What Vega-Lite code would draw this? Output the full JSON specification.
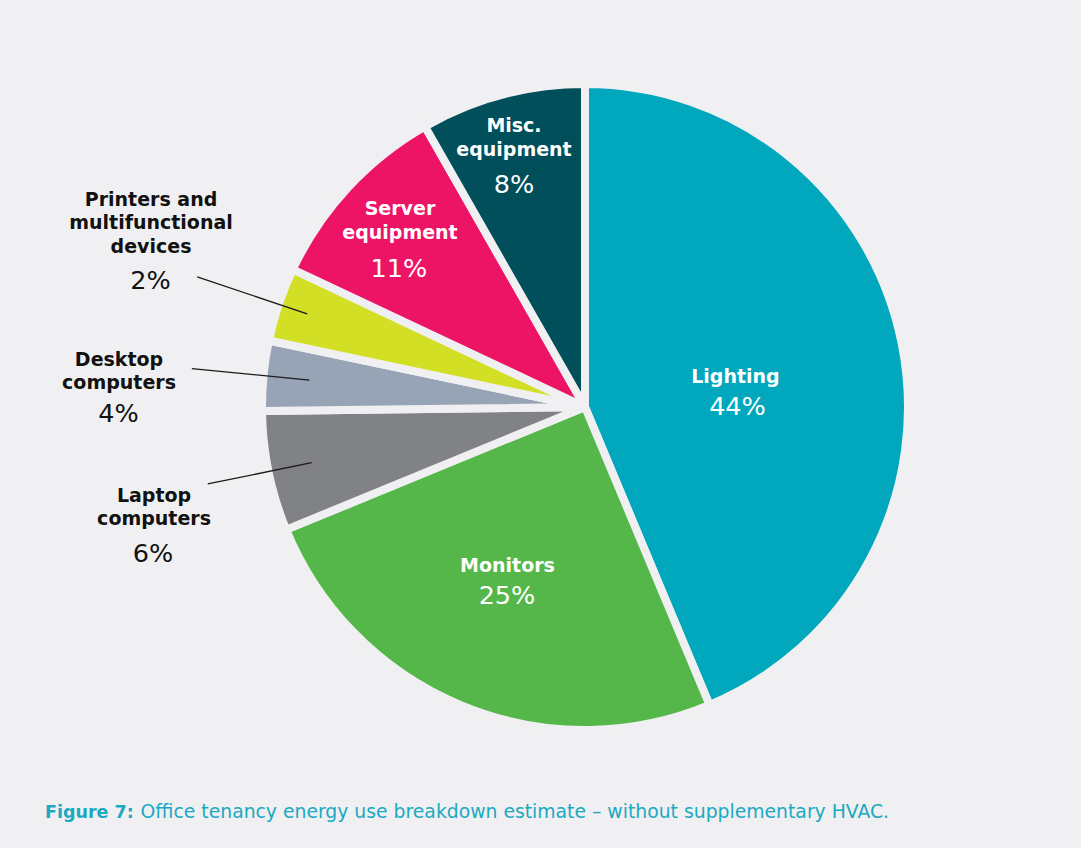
{
  "$schema": "https://vega.github.io/schema/vega-lite/v6.json",
  "width": 646,
  "height": 646,
  "autosize": {"type": "none"},
  "padding": {"left": 262, "top": 84, "right": 173, "bottom": 118},
  "background": "#f0f0f2",
  "config": {"view": {"stroke": null}},
  "title": {
    "text": "Figure 7:",
    "subtitle": "\u200b\u00a0\u00a0\u00a0\u00a0\u00a0\u00a0\u00a0\u00a0\u00a0\u00a0\u00a0\u00a0\u00a0\u00a0\u00a0\u00a0Office tenancy energy use breakdown estimate – without supplementary HVAC.",
    "orient": "bottom",
    "anchor": "start",
    "frame": "group",
    "dx": -217,
    "offset": -75,
    "font": "DejaVu Sans",
    "fontSize": 17.5,
    "fontWeight": "bold",
    "color": "#1ba9c2",
    "subtitleFont": "DejaVu Sans",
    "subtitleFontSize": 18.8,
    "subtitleFontWeight": "normal",
    "subtitleColor": "#1ba9c2",
    "subtitlePadding": -18
  },
  "data": {
    "values": [
      {"cat": "Lighting", "label": "Lighting", "pct": "44%", "value": 43.7, "ord": 1},
      {"cat": "Monitors", "label": "Monitors", "pct": "25%", "value": 25.1, "ord": 2},
      {"cat": "Laptop computers", "label": "Laptop\ncomputers", "pct": "6%", "value": 6.0, "ord": 3},
      {"cat": "Desktop computers", "label": "Desktop\ncomputers", "pct": "4%", "value": 3.5, "ord": 4},
      {"cat": "Printers and multifunctional devices", "label": "Printers and\nmultifunctional\ndevices", "pct": "2%", "value": 3.7, "ord": 5},
      {"cat": "Server equipment", "label": "Server\nequipment", "pct": "11%", "value": 9.75, "ord": 6},
      {"cat": "Misc. equipment", "label": "Misc.\nequipment", "pct": "8%", "value": 8.25, "ord": 7}
    ]
  },
  "encoding": {
    "theta": {"field": "value", "type": "quantitative", "stack": true},
    "order": {"field": "ord", "type": "quantitative"}
  },
  "layer": [
    {
      "mark": {"type": "arc", "outerRadius": 323, "stroke": "#f0f0f2", "strokeWidth": 8, "strokeJoin": "round"},
      "encoding": {
        "color": {
          "field": "cat", "type": "nominal", "legend": null,
          "scale": {
            "domain": ["Lighting", "Monitors", "Laptop computers", "Desktop computers", "Printers and multifunctional devices", "Server equipment", "Misc. equipment"],
            "range": ["#00a7bd", "#55b74a", "#818286", "#97a4b5", "#d2df25", "#ed1365", "#004f5b"]
          }
        }
      }
    },
    {
      "mark": {"type": "arc", "filled": false, "color": "#1a1a1a", "strokeWidth": 1.3, "padAngle": 3, "innerRadius": 293, "outerRadius": 409},
      "encoding": {"strokeOpacity": {"condition": {"test": "datum.ord === 5", "value": 1}, "value": 0}}
    },
    {
      "mark": {"type": "arc", "filled": false, "color": "#1a1a1a", "strokeWidth": 1.3, "padAngle": 3, "innerRadius": 277, "outerRadius": 395},
      "encoding": {"strokeOpacity": {"condition": {"test": "datum.ord === 4", "value": 1}, "value": 0}}
    },
    {
      "mark": {"type": "arc", "filled": false, "color": "#1a1a1a", "strokeWidth": 1.3, "padAngle": 3, "innerRadius": 279, "outerRadius": 385},
      "encoding": {"strokeOpacity": {"condition": {"test": "datum.ord === 3", "value": 1}, "value": 0}}
    },
    {
      "mark": {"type": "text", "radius": 150, "dx": 3.4, "dy": 5.5, "font": "DejaVu Sans", "fontSize": 19, "fontWeight": "bold", "color": "#ffffff", "align": "center", "baseline": "alphabetic", "lineBreak": "\n", "lineHeight": 24},
      "encoding": {"text": {"condition": {"test": "datum.ord === 1", "field": "label", "type": "nominal"}, "value": ""}}
    },
    {
      "mark": {"type": "text", "radius": 150, "dx": 5.4, "dy": 37.5, "font": "DejaVu Sans", "fontSize": 25.5, "fontWeight": "normal", "color": "#ffffff", "align": "center", "baseline": "alphabetic"},
      "encoding": {"text": {"condition": {"test": "datum.ord === 1", "field": "pct", "type": "nominal"}, "value": ""}}
    },
    {
      "mark": {"type": "text", "radius": 190, "dx": -4.8, "dy": -10.5, "font": "DejaVu Sans", "fontSize": 19, "fontWeight": "bold", "color": "#ffffff", "align": "center", "baseline": "alphabetic", "lineBreak": "\n", "lineHeight": 24},
      "encoding": {"text": {"condition": {"test": "datum.ord === 2", "field": "label", "type": "nominal"}, "value": ""}}
    },
    {
      "mark": {"type": "text", "radius": 190, "dx": -5.3, "dy": 21.5, "font": "DejaVu Sans", "fontSize": 25.5, "fontWeight": "normal", "color": "#ffffff", "align": "center", "baseline": "alphabetic"},
      "encoding": {"text": {"condition": {"test": "datum.ord === 2", "field": "pct", "type": "nominal"}, "value": ""}}
    },
    {
      "mark": {"type": "text", "radius": 430, "dx": -9.6, "dy": 9.1, "font": "DejaVu Sans", "fontSize": 19, "fontWeight": "bold", "color": "#111111", "align": "center", "baseline": "alphabetic", "lineBreak": "\n", "lineHeight": 23.5},
      "encoding": {"text": {"condition": {"test": "datum.ord === 3", "field": "label", "type": "nominal"}, "value": ""}}
    },
    {
      "mark": {"type": "text", "radius": 430, "dx": -10.6, "dy": 69.1, "font": "DejaVu Sans", "fontSize": 25.5, "fontWeight": "normal", "color": "#111111", "align": "center", "baseline": "alphabetic"},
      "encoding": {"text": {"condition": {"test": "datum.ord === 3", "field": "pct", "type": "nominal"}, "value": ""}}
    },
    {
      "mark": {"type": "text", "radius": 430, "dx": -38, "dy": 0.8, "font": "DejaVu Sans", "fontSize": 19, "fontWeight": "bold", "color": "#111111", "align": "center", "baseline": "alphabetic", "lineBreak": "\n", "lineHeight": 23.5},
      "encoding": {"text": {"condition": {"test": "datum.ord === 4", "field": "label", "type": "nominal"}, "value": ""}}
    },
    {
      "mark": {"type": "text", "radius": 430, "dx": -38.5, "dy": 56.8, "font": "DejaVu Sans", "fontSize": 25.5, "fontWeight": "normal", "color": "#111111", "align": "center", "baseline": "alphabetic"},
      "encoding": {"text": {"condition": {"test": "datum.ord === 4", "field": "pct", "type": "nominal"}, "value": ""}}
    },
    {
      "mark": {"type": "text", "radius": 430, "dx": -26.3, "dy": -64.3, "font": "DejaVu Sans", "fontSize": 19, "fontWeight": "bold", "color": "#111111", "align": "center", "baseline": "alphabetic", "lineBreak": "\n", "lineHeight": 23.5},
      "encoding": {"text": {"condition": {"test": "datum.ord === 5", "field": "label", "type": "nominal"}, "value": ""}}
    },
    {
      "mark": {"type": "text", "radius": 430, "dx": -26.8, "dy": 18.7, "font": "DejaVu Sans", "fontSize": 25.5, "fontWeight": "normal", "color": "#111111", "align": "center", "baseline": "alphabetic"},
      "encoding": {"text": {"condition": {"test": "datum.ord === 5", "field": "pct", "type": "nominal"}, "value": ""}}
    },
    {
      "mark": {"type": "text", "radius": 240, "dx": -8.8, "dy": -29.1, "font": "DejaVu Sans", "fontSize": 19, "fontWeight": "bold", "color": "#ffffff", "align": "center", "baseline": "alphabetic", "lineBreak": "\n", "lineHeight": 24},
      "encoding": {"text": {"condition": {"test": "datum.ord === 6", "field": "label", "type": "nominal"}, "value": ""}}
    },
    {
      "mark": {"type": "text", "radius": 240, "dx": -9.8, "dy": 32.9, "font": "DejaVu Sans", "fontSize": 25.5, "fontWeight": "normal", "color": "#ffffff", "align": "center", "baseline": "alphabetic"},
      "encoding": {"text": {"condition": {"test": "datum.ord === 6", "field": "pct", "type": "nominal"}, "value": ""}}
    },
    {
      "mark": {"type": "text", "radius": 240, "dx": -9.5, "dy": -43, "font": "DejaVu Sans", "fontSize": 19, "fontWeight": "bold", "color": "#ffffff", "align": "center", "baseline": "alphabetic", "lineBreak": "\n", "lineHeight": 24},
      "encoding": {"text": {"condition": {"test": "datum.ord === 7", "field": "label", "type": "nominal"}, "value": ""}}
    },
    {
      "mark": {"type": "text", "radius": 240, "dx": -9.5, "dy": 18, "font": "DejaVu Sans", "fontSize": 25.5, "fontWeight": "normal", "color": "#ffffff", "align": "center", "baseline": "alphabetic"},
      "encoding": {"text": {"condition": {"test": "datum.ord === 7", "field": "pct", "type": "nominal"}, "value": ""}}
    }
  ]
}
